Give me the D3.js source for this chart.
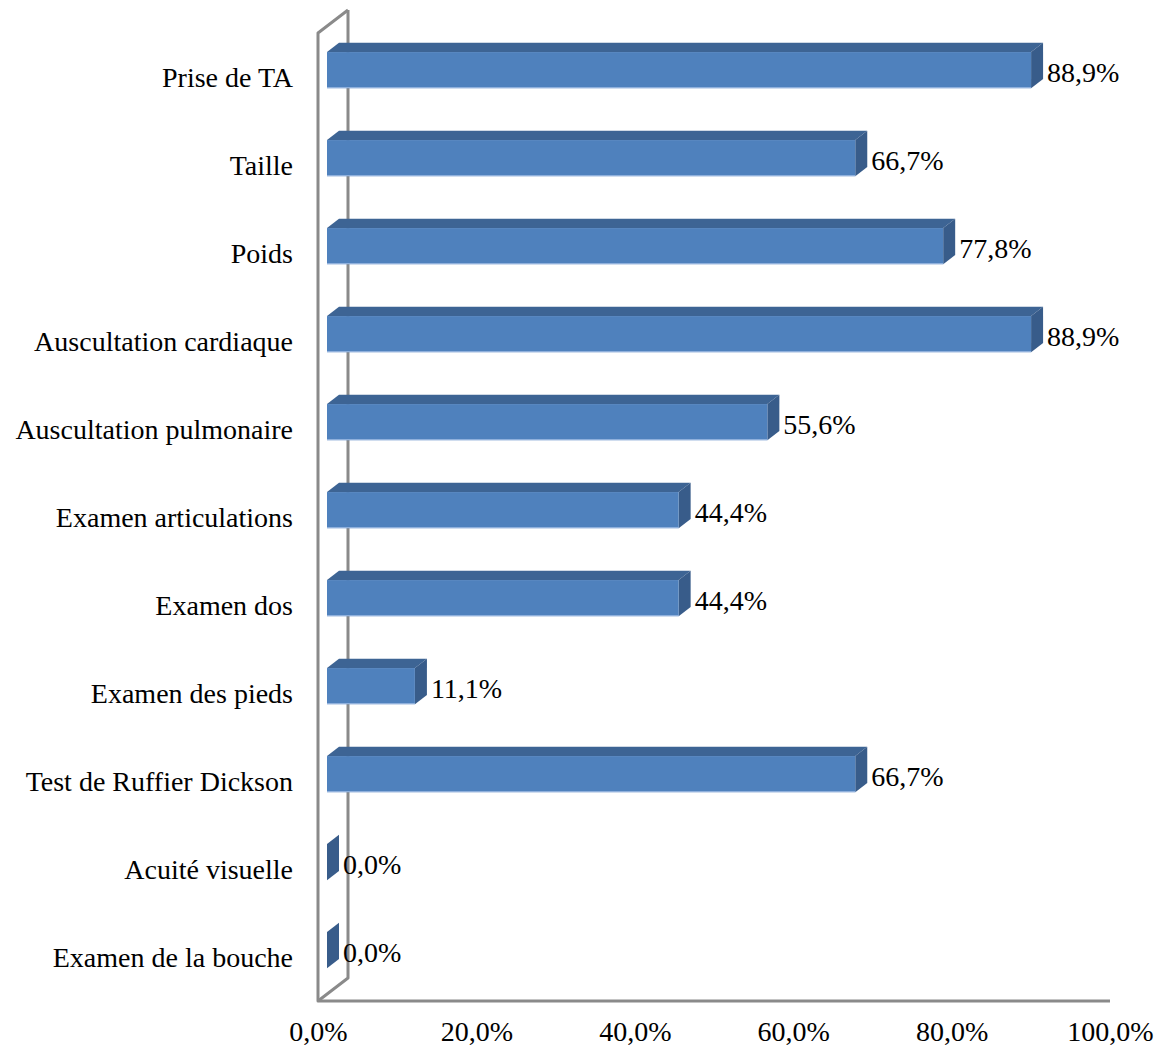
<!DOCTYPE html>
<html>
<head>
<meta charset="utf-8">
<script src="https://cdn.jsdelivr.net/npm/d3@7"></script>
<style>
  html, body { margin: 0; padding: 0; background: #fff; }
  svg { display: block; }
  text { font-family: "Liberation Serif", "Times New Roman", serif; fill: #000; }
</style>
</head>
<body>
<svg id="chart" width="1160" height="1049"></svg>
<script>
// Exam items checked during the visit, share of respondents
const categories = [
  "Prise de TA",
  "Taille",
  "Poids",
  "Auscultation cardiaque",
  "Auscultation pulmonaire",
  "Examen articulations",
  "Examen dos",
  "Examen des pieds",
  "Test de Ruffier Dickson",
  "Acuité visuelle",
  "Examen de la bouche"
];
const values = [0.889, 0.667, 0.778, 0.889, 0.556, 0.444, 0.444, 0.111, 0.667, 0.0, 0.0];
const labels = ["88,9%", "66,7%", "77,8%", "88,9%", "55,6%", "44,4%", "44,4%", "11,1%", "66,7%", "0,0%", "0,0%"];
const xTicks = [0, 0.2, 0.4, 0.6, 0.8, 1.0];
const xTickLabels = ["0,0%", "20,0%", "40,0%", "60,0%", "80,0%", "100,0%"];

const svg = d3.select("#chart");

// Front plane of the 3D plot box
const plotLeft = 318, plotRight = 1110, plotTop = 33, plotBottom = 1001;
// Full depth offset of the back wall
const depthX = 30, depthY = -23;
// Bars occupy depth between 30% and 70%
const d0 = 0.3, d1 = 0.7;

const x = d3.scaleLinear().domain([0, 1]).range([plotLeft, plotRight]);
const y = d3.scaleBand().domain(categories).range([plotTop, plotBottom]).paddingInner(0).paddingOuter(0);

const frameColor = "#8a8a8a";

// Side wall outline and floor edge
const frame = svg.append("g")
  .attr("fill", "none")
  .attr("stroke", frameColor)
  .attr("stroke-width", 3)
  .attr("stroke-linejoin", "round");

frame.append("path")
  .attr("d", d3.line()([
    [plotLeft + depthX, plotTop + depthY],
    [plotLeft + depthX, plotBottom + depthY],
    [plotLeft, plotBottom]
  ]));
frame.append("path")
  .attr("d", d3.line()([
    [plotLeft + depthX, plotTop + depthY],
    [plotLeft, plotTop],
    [plotLeft, plotBottom],
    [plotRight, plotBottom]
  ]));

// Bars drawn as 3D boxes
const barH = y.bandwidth() * 0.41;
const fx = depthX * d0, fy = depthY * d0;   // front face offset
const bx = depthX * d1, by = depthY * d1;   // back face offset

const bars = svg.append("g").selectAll("g.bar")
  .data(categories.map((c, i) => ({ c, v: values[i], label: labels[i] })))
  .join("g").attr("class", "bar");

bars.each(function(d) {
  const g = d3.select(this);
  const cy = y(d.c) + y.bandwidth() / 2;
  const x0 = x(0), x1 = x(d.v);
  const yt = cy - barH / 2, yb = cy + barH / 2;

  // top face
  g.append("path")
    .attr("d", d3.line()([
      [x0 + fx, yt + fy], [x0 + bx, yt + by], [x1 + bx, yt + by], [x1 + fx, yt + fy]
    ]) + "Z")
    .attr("fill", "#3d6494");

  // end face
  g.append("path")
    .attr("d", d3.line()([
      [x1 + fx, yt + fy], [x1 + bx, yt + by], [x1 + bx, yb + by], [x1 + fx, yb + fy]
    ]) + "Z")
    .attr("fill", "#385c8a");

  // front face
  if (x1 > x0) {
    g.append("rect")
      .attr("x", x0 + fx).attr("y", yt + fy)
      .attr("width", x1 - x0).attr("height", barH)
      .attr("fill", "#4f81bd");
    g.append("line")
      .attr("x1", x0 + fx).attr("x2", x1 + fx)
      .attr("y1", yb + fy - 0.5).attr("y2", yb + fy - 0.5)
      .attr("stroke", "#8fb0dc").attr("stroke-width", 1.2);
  }

  // value label
  g.append("text")
    .attr("x", x1 + bx + 4)
    .attr("y", cy - 4.5)
    .attr("dy", "0.35em")
    .attr("font-size", 28)
    .text(d.label);
});

// Category axis
const yAxis = svg.append("g")
  .attr("transform", `translate(${plotLeft},0)`)
  .call(d3.axisLeft(y).tickSize(0).tickPadding(25));
yAxis.select(".domain").remove();
yAxis.selectAll("text")
  .attr("font-size", 28)
  .attr("font-family", "Liberation Serif, serif")
  .attr("dy", "0.35em")
  .attr("fill", "#000");

// Value axis
const xAxis = svg.append("g")
  .attr("transform", `translate(0,${plotBottom})`)
  .call(d3.axisBottom(x).tickValues(xTicks).tickSize(0).tickPadding(20)
    .tickFormat((d, i) => xTickLabels[i]));
xAxis.select(".domain").remove();
xAxis.selectAll("text")
  .attr("font-size", 28)
  .attr("font-family", "Liberation Serif, serif")
  .attr("fill", "#000");
</script>
</body>
</html>
